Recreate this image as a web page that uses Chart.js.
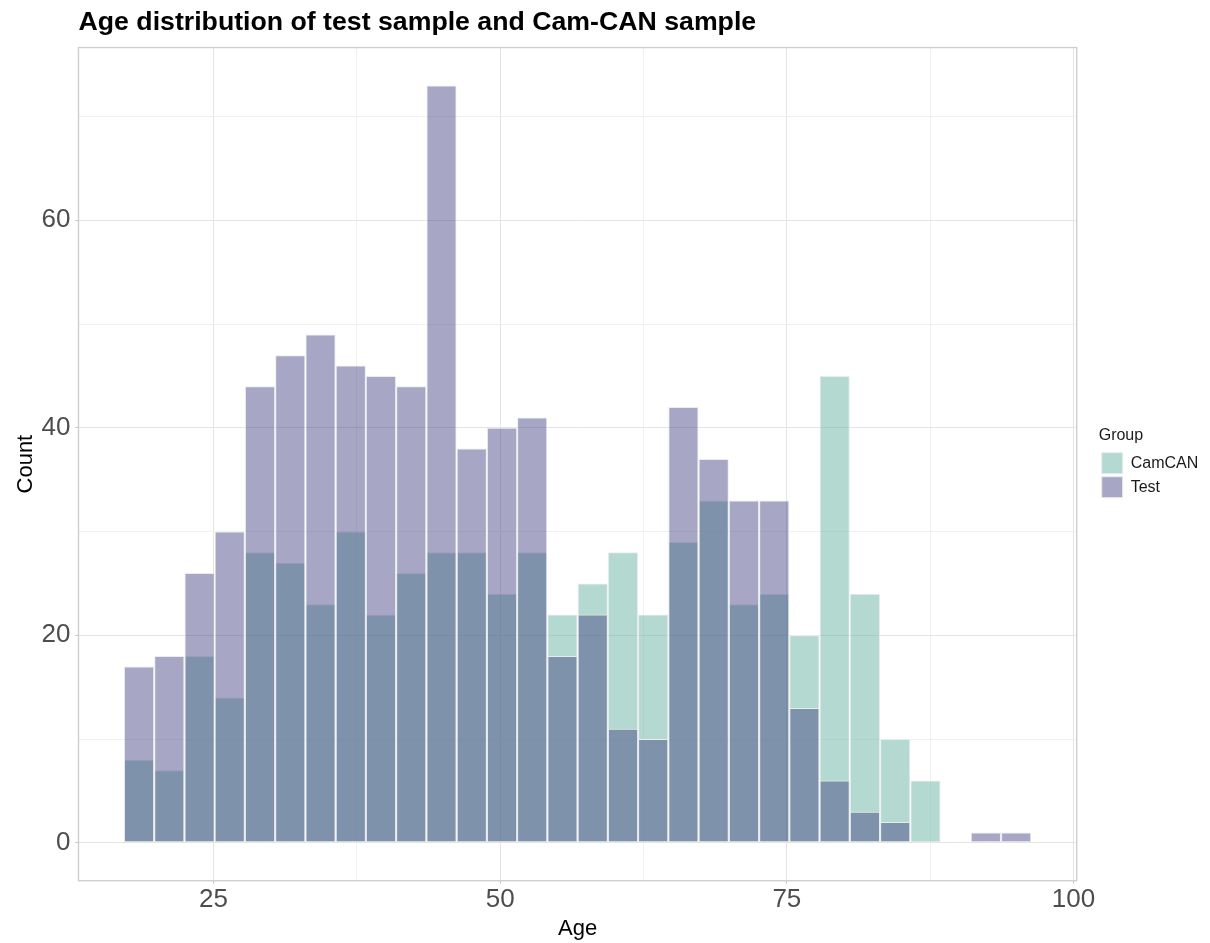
<!DOCTYPE html>
<html lang="en">
<head>
    <meta charset="UTF-8">
    <title>Age distribution of test sample and Cam-CAN sample</title>
    <script src="https://cdn.jsdelivr.net/npm/chart.js"></script>
    <style>
        body { margin: 0; background: #fff; }
    </style>
</head>
<body>
    <canvas id="ageChart" width="1210" height="943"></canvas>
    <script>
        // bin centres (age), 30 bins
        const binCenters = [18.50, 21.14, 23.78, 26.41, 29.05, 31.69, 34.33, 36.97, 39.60, 42.24,
                            44.88, 47.52, 50.16, 52.79, 55.43, 58.07, 60.71, 63.34, 65.98, 68.62,
                            71.26, 73.90, 76.53, 79.17, 81.81, 84.45, 87.09, 89.72, 92.36, 95.00];
        const camcanCounts = [8, 7, 18, 14, 28, 27, 23, 30, 22, 26,
                              28, 28, 24, 28, 22, 25, 28, 22, 29, 33,
                              23, 24, 20, 45, 24, 10, 6, 0, 0, 0];
        const testCounts = [17, 18, 26, 30, 44, 47, 49, 46, 45, 44,
                            73, 38, 40, 41, 18, 22, 11, 10, 42, 37,
                            33, 33, 13, 6, 3, 2, 0, 0, 1, 1];

        const xMajor = [25, 50, 75, 100];
        const xMinor = [37.5, 62.5, 87.5];
        const yMajor = [0, 20, 40, 60];
        const yMinor = [10, 30, 50, 70];

        const xTicks = xMajor.concat(xMinor).sort((a, b) => a - b);
        const yTicks = yMajor.concat(yMinor).sort((a, b) => a - b);

        Chart.defaults.font.family = "'Liberation Sans', Arial, Helvetica, sans-serif";

        function gridColor(majors) {
            return ctx => (ctx.tick && majors.includes(ctx.tick.value)) ? '#e4e4e4' : '#f0f0f0';
        }
        function tickColor(majors) {
            return ctx => (ctx.tick && majors.includes(ctx.tick.value)) ? '#c4c4c4' : 'rgba(0,0,0,0)';
        }

        // panel border like ggplot + legend offset
        const panelPlugin = {
            id: 'panel',
            afterLayout(chart) {
                chart.legend.left += 22;
                chart.legend.right = chart.width;
            },
            afterDatasetsDraw(chart) {
                const a = chart.chartArea;
                const c = chart.ctx;
                c.save();
                c.strokeStyle = '#cfcfcf';
                c.lineWidth = 1.4;
                c.strokeRect(a.left, a.top, a.right - a.left, a.bottom - a.top);
                c.restore();
            }
        };

        const barStyle = {
            borderColor: '#e9ecef',
            borderWidth: 1,
            borderSkipped: false,
            inflateAmount: 0,
            barPercentage: 1,
            categoryPercentage: 1,
            grouped: false
        };

        new Chart(document.getElementById('ageChart'), {
            type: 'bar',
            data: {
                labels: binCenters,
                datasets: [
                    Object.assign({
                        label: 'CamCAN',
                        data: camcanCounts,
                        backgroundColor: 'rgba(105, 179, 162, 0.5)',
                        order: 1
                    }, barStyle),
                    Object.assign({
                        label: 'Test',
                        data: testCounts,
                        backgroundColor: 'rgba(64, 64, 128, 0.46)',
                        order: 0
                    }, barStyle)
                ]
            },
            options: {
                responsive: false,
                animation: false,
                events: [],
                layout: { padding: { left: 0, right: 53.3, top: 0, bottom: 0 } },
                plugins: {
                    tooltip: { enabled: false },
                    title: {
                        display: true,
                        text: 'Age distribution of test sample and Cam-CAN sample',
                        align: 'start',
                        fullSize: false,
                        color: '#000',
                        font: { size: 26.7, weight: 'bold' },
                        padding: { top: 6.7, bottom: 8.8 }
                    },
                    legend: {
                        position: 'right',
                        fullSize: false,
                        maxWidth: 80,
                        title: {
                            display: true,
                            text: 'Group',
                            position: 'start',
                            color: '#1a1a1a',
                            font: { size: 16 },
                            padding: { top: 0, bottom: 3 }
                        },
                        labels: {
                            boxWidth: 21,
                            boxHeight: 21,
                            padding: 3,
                            color: '#1a1a1a',
                            font: { size: 16 },
                            sort: (a, b) => a.datasetIndex - b.datasetIndex
                        }
                    }
                },
                scales: {
                    x: {
                        type: 'linear',
                        min: 13.22,
                        max: 100.28,
                        bounds: 'data',
                        offset: false,
                        afterBuildTicks: s => { s.ticks = xTicks.map(v => ({ value: v })); },
                        afterFit: s => { s.height = 62.3; },
                        border: { display: false },
                        grid: { offset: false, color: gridColor(xMajor), tickColor: tickColor(xMajor), tickLength: 3, lineWidth: 1 },
                        ticks: {
                            autoSkip: false,
                            maxRotation: 0,
                            padding: 1,
                            color: '#4d4d4d',
                            font: { size: 26 },
                            callback: v => xMajor.includes(v) ? String(v) : ''
                        },
                        title: { display: true, text: 'Age', color: '#000', font: { size: 22 }, padding: { top: 0, bottom: 1 } }
                    },
                    y: {
                        type: 'linear',
                        min: -3.65,
                        max: 76.65,
                        bounds: 'data',
                        afterBuildTicks: s => { s.ticks = yTicks.map(v => ({ value: v })); },
                        afterFit: s => { s.width = 78.5; },
                        border: { display: false },
                        grid: { color: gridColor(yMajor), tickColor: tickColor(yMajor), tickLength: 3, lineWidth: 1 },
                        ticks: {
                            padding: 5,
                            color: '#4d4d4d',
                            font: { size: 26 },
                            callback: v => yMajor.includes(v) ? String(v) : ''
                        },
                        title: { display: true, text: 'Count', color: '#000', font: { size: 22 }, padding: { top: 13, bottom: 0 } }
                    }
                }
            },
            plugins: [panelPlugin]
        });
    </script>
</body>
</html>
